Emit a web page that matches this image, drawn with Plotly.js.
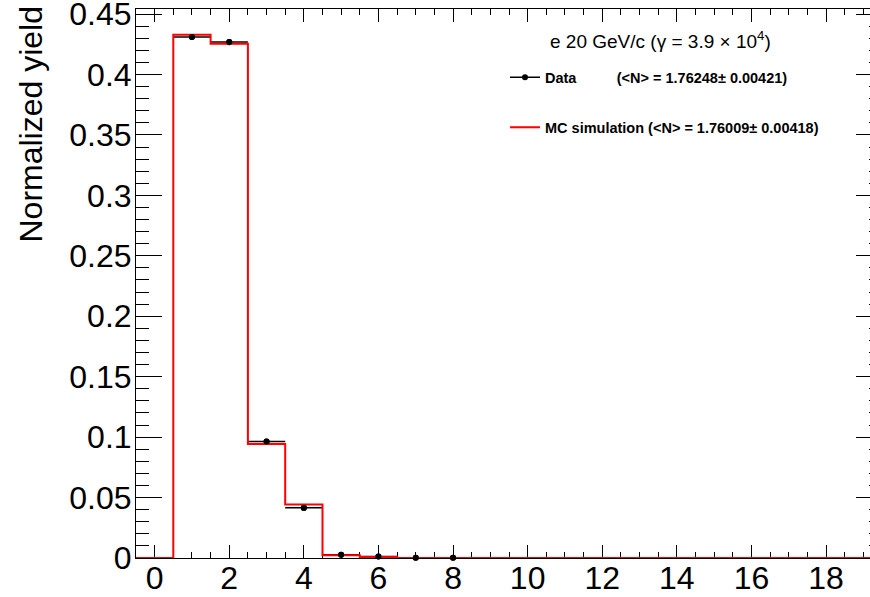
<!DOCTYPE html>
<html>
<head>
<meta charset="utf-8">
<script src="https://cdn.plot.ly/plotly-3.0.1.min.js"></script>
<style>
html, body { margin: 0; padding: 0; overflow: hidden; background: #fff; }
#chart { width: 900px; height: 597px; }
</style>
</head>
<body>
<div id="chart"></div>
<script>
// ---- data ----
const binCenters = [0, 1, 2, 3, 4, 5, 6, 7, 8, 9, 10, 11, 12, 13, 14, 15, 16, 17, 18, 19];
const dataX = [1, 2, 3, 4, 5, 6, 7, 8];
const dataValues = [0.4310, 0.4268, 0.0964, 0.0415, 0.0026, 0.0013, 0.0003, 0.0002];
const dataErrors = [0.0025, 0.0025, 0.0012, 0.0008, 0.0002, 0.0001, 0.0001, 0.0001];
const mcValues = [0, 0.4329, 0.4254, 0.0943, 0.0442, 0.0023, 0.0008, 0.0001, 0, 0, 0, 0, 0, 0, 0, 0, 0, 0, 0, 0];
const dataLabel = 'Data';
const dataMean = '(&lt;N&gt; = 1.76248± 0.00421)';
const mcLabel = 'MC simulation (&lt;N&gt; = 1.76009± 0.00418)';
const beamLabel = 'e 20 GeV/c (γ = 3.9 × 10<sup>4</sup>)';
const yTitle = 'Normalized yield';

// histogram edges from bin centres (step drawing)
const mcEdgesX = binCenters.map(c => c - 0.5).concat([binCenters[binCenters.length - 1] + 0.5]);
const mcStepY = mcValues.concat([mcValues[mcValues.length - 1]]);

const FONT = 'Liberation Sans, Arial, Helvetica, sans-serif';
const nb = '\u00a0';

const traces = [
  {
    x: dataX, y: dataValues, type: 'scatter', mode: 'markers',
    marker: { color: 'black', size: 6 },
    error_x: { type: 'constant', value: 0.5, width: 0, thickness: 1.5, color: 'black' },
    error_y: { type: 'data', array: dataErrors, width: 0, thickness: 1.5, color: 'black' },
    showlegend: false, cliponaxis: false
  },
  {
    x: mcEdgesX, y: mcStepY, type: 'scatter', mode: 'lines',
    line: { color: '#ff0000', width: 2, shape: 'hv' },
    showlegend: false
  },
  {
    x: dataX, y: dataValues, type: 'scatter', mode: 'markers',
    marker: { color: 'black', size: 6 },
    showlegend: false, cliponaxis: false
  },
  // legend entries
  {
    x: [null], y: [null], type: 'scatter', mode: 'lines+markers',
    line: { color: 'black', width: 1.5 }, marker: { color: 'black', size: 6 },
    name: '<b>' + dataLabel + nb.repeat(10) + dataMean + '</b>', legendgroup: 'a'
  },
  {
    x: [null], y: [null], type: 'scatter', mode: 'lines',
    line: { color: '#ff0000', width: 2 },
    name: '<b>' + mcLabel + '</b>', legendgroup: 'b'
  }
];

const layout = {
  width: 900, height: 597,
  margin: { l: 136, r: 18, t: 8.5, b: 38.5 },
  paper_bgcolor: 'white', plot_bgcolor: 'white',
  font: { family: FONT, color: 'black' },
  showlegend: true,
  legend: {
    x: (505 - 136) / 746, y: (558.5 - 61) / 550, xanchor: 'left', yanchor: 'top',
    bgcolor: 'rgba(0,0,0,0)', borderwidth: 0,
    font: { family: FONT, size: 14.5, color: 'black' },
    traceorder: 'grouped', tracegroupgap: 28, itemwidth: 30
  },
  xaxis: {
    range: [-0.5, 19.5], tick0: 0, dtick: 2,
    ticks: 'inside', ticklen: 13, tickwidth: 1, tickcolor: 'black',
    minor: { dtick: 0.5, ticks: 'inside', ticklen: 6, tickwidth: 1, tickcolor: 'black', showgrid: false },
    showline: true, linecolor: 'black', linewidth: 1, mirror: 'ticks',
    showgrid: false, zeroline: false, layer: 'below traces',
    ticklabeloverflow: 'allow', ticklabelstandoff: -8,
    tickfont: { family: FONT, size: 32, color: 'black' }
  },
  yaxis: {
    range: [0, 0.4542], tick0: 0, dtick: 0.05,
    ticks: 'inside', ticklen: 26, tickwidth: 1, tickcolor: 'black',
    minor: { dtick: 0.01, ticks: 'inside', ticklen: 13, tickwidth: 1, tickcolor: 'black', showgrid: false },
    showline: true, linecolor: 'black', linewidth: 1, mirror: 'ticks',
    showgrid: false, zeroline: false, layer: 'below traces',
    ticklabeloverflow: 'allow', ticklabelstandoff: -3,
    tickfont: { family: FONT, size: 32, color: 'black' }
  },
  annotations: [
    {
      text: yTitle, textangle: -90, showarrow: false,
      xref: 'paper', yref: 'paper', x: 0, y: 1, xanchor: 'center', yanchor: 'top',
      xshift: -106, yshift: 5,
      font: { family: FONT, size: 32, color: 'black' }
    },
    {
      text: beamLabel, showarrow: false,
      xref: 'paper', yref: 'paper', x: (660 - 136) / 746, y: (558.5 - 40) / 550,
      xanchor: 'center', yanchor: 'middle',
      font: { family: FONT, size: 19, color: 'black' }
    }
  ]
};

Plotly.newPlot('chart', traces, layout, { staticPlot: true, displayModeBar: false });
</script>
</body>
</html>
